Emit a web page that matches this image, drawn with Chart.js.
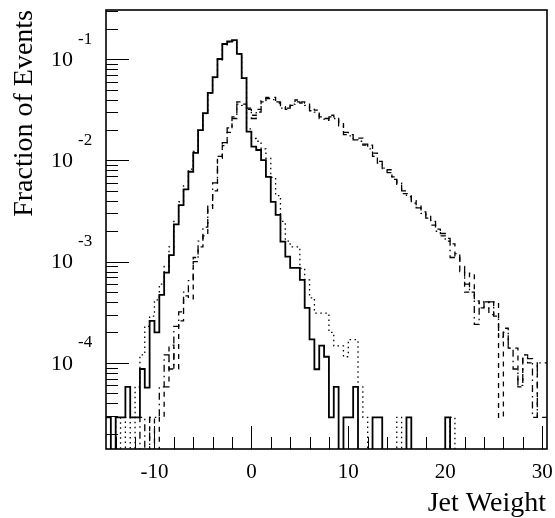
<!DOCTYPE html>
<html>
<head>
<meta charset="utf-8">
<script src="https://cdn.jsdelivr.net/npm/chart.js@4/dist/chart.umd.min.js"></script>
<style>
  html, body { margin: 0; padding: 0; background: #fff; }
  canvas { display: block; }
</style>
</head>
<body>
<canvas id="c" width="555" height="518"></canvas>
<script>
// Bin low edges (bin width 0.5), last bin ends at 30.5
const binLow = [-15,-14.5,-14,-13.5,-13,-12.5,-12,-11.5,-11,-10.5,-10,-9.5,-9,-8.5,-8,-7.5,-7,-6.5,-6,-5.5,
  -5,-4.5,-4,-3.5,-3,-2.5,-2,-1.5,-1,-0.5,0,0.5,1,1.5,2,2.5,3,3.5,4,4.5,5,5.5,6,6.5,7,7.5,8,8.5,9,9.5,
  10,10.5,11,11.5,12,12.5,13,13.5,14,14.5,15,15.5,16,16.5,17,17.5,18,18.5,19,19.5,20,20.5,21,21.5,22,22.5,
  23,23.5,24,24.5,25,25.5,26,26.5,27,27.5,28,28.5,29,29.5,30];
const lastEdge = 30.5;

// Solid histogram
const solidValues = [2.9e-5,2.9e-5,0,2.9e-5,2.9e-5,5.8e-5,2.9e-5,2.9e-5,8.7e-5,5.7e-5,
  2.6e-4,2.0e-4,4.7e-4,7.8e-4,1.16e-3,2.34e-3,3.63e-3,5.19e-3,7.74e-3,1.19e-2,
  2.0e-2,2.94e-2,4.65e-2,6.68e-2,0.1007,0.1416,0.150,0.155,0.113,0.0653,
  0.0193,0.0137,0.0127,0.0101,0.0069,0.0039,0.0029,0.00158,0.00112,0.00087,
  0.00087,0.00066,0.00035,0.000171,8.65e-5,0.000148,0.000115,2.9e-5,5.8e-5,0,
  2.9e-5,2.9e-5,5.8e-5,0,0,0,2.9e-5,2.9e-5,0,0,
  0,0,0,2.9e-5,0,0,0,0,0,0,
  0,2.9e-5,0,0,0,0,0,0,0,0,
  0,0,0,0,0,0,0,0,0,0,0];

// Dotted histogram
const dottedValues = [0,0,0,2.9e-5,0,2.9e-5,0,5.8e-5,1.2e-4,2.3e-4,
  2.9e-4,4.2e-4,6.0e-4,9.0e-4,1.4e-3,2.5e-3,3.9e-3,5.6e-3,8.2e-3,1.23e-2,
  2.0e-2,2.9e-2,4.6e-2,6.6e-2,0.099,0.139,0.149,0.152,0.112,0.066,
  0.0205,0.0165,0.0155,0.013,0.0105,0.0068,0.0045,0.0025,0.0016,0.0014,
  0.0014,0.00086,0.00066,0.00044,0.00031,0.00031,0.00031,0.0002,0.000147,0.000147,
  0.000115,0.00017,0.00017,5.8e-5,2.9e-5,0,0,0,0,0,
  0,2.9e-5,0,0,0,0,0,0,0,0,
  0,0,2.9e-5,0,0,0,0,0,0,0,
  0,0,0,0,0,0,0,0,0,0,0];

// Dashed histogram
const dashedValues = [0,0,0,0,0,0,0,0,0,0,
  2.9e-5,0,2.9e-5,5.8e-5,1.5e-4,8.7e-5,2.6e-4,4.6e-4,4.3e-4,1.1e-3,
  1.4e-3,1.8e-3,3.3e-3,5.0e-3,1.05e-2,1.4e-2,1.9e-2,2.6e-2,3.8e-2,3.6e-2,
  3.2e-2,2.8e-2,3.0e-2,3.8e-2,4.2e-2,4.2e-2,3.7e-2,3.4e-2,3.2e-2,3.5e-2,
  3.96e-2,3.8e-2,3.7e-2,3.2e-2,3.15e-2,2.6e-2,2.6e-2,2.8e-2,2.7e-2,2.4e-2,
  1.8e-2,1.8e-2,1.66e-2,1.66e-2,1.42e-2,1.42e-2,1.18e-2,9.4e-3,8.1e-3,8.1e-3,
  6.9e-3,5.8e-3,4.7e-3,4.7e-3,4.0e-3,3.6e-3,3.1e-3,2.9e-3,2.3e-3,2.1e-3,
  1.8e-3,1.7e-3,1.5e-3,1.1e-3,8.0e-4,5.0e-4,7.7e-4,4.1e-4,3.5e-4,4.0e-4,
  3.0e-4,4.0e-4,2.9e-5,2.2e-4,1.4e-4,1.4e-4,5.8e-5,1.2e-4,1.0e-4,1.0e-4,2.9e-5];

// Dash-dotted histogram
const dashDotValues = [0,0,0,0,0,0,0,0,2.9e-5,0,
  2.9e-5,2.9e-5,5.8e-5,1.2e-4,8.7e-5,2.3e-4,3.2e-4,5.0e-4,6.5e-4,1.0e-3,
  1.6e-3,2.2e-3,3.6e-3,6.0e-3,1.1e-2,1.5e-2,2.1e-2,2.7e-2,3.6e-2,3.5e-2,
  3.3e-2,2.6e-2,3.2e-2,3.9e-2,4.1e-2,4.0e-2,3.8e-2,3.3e-2,3.3e-2,3.6e-2,
  3.8e-2,3.7e-2,3.5e-2,3.1e-2,3.0e-2,2.7e-2,2.5e-2,2.7e-2,2.6e-2,2.2e-2,
  1.9e-2,1.75e-2,1.6e-2,1.55e-2,1.45e-2,1.3e-2,1.1e-2,9.8e-3,8.4e-3,7.6e-3,
  6.5e-3,6.0e-3,5.0e-3,4.4e-3,3.8e-3,3.4e-3,3.0e-3,2.7e-3,2.5e-3,2.0e-3,
  1.9e-3,1.6e-3,1.1e-3,1.2e-3,9.0e-4,6.0e-4,5.0e-4,2.4e-4,4.0e-4,3.5e-4,
  4.0e-4,2.9e-4,1.8e-4,2.0e-4,1.4e-4,8.7e-5,6.0e-5,1.2e-4,1.1e-4,2.9e-5,1.0e-4];

const xTickLabels = [-10, 0, 10, 20, 30];
const yDecades = [-1, -2, -3, -4];
const xTitle = 'Jet Weight';
const yTitle = 'Fraction of Events';

const X_MIN = -15, X_MAX = 30.5;
const Y_MIN = 1.41e-5, Y_MAX = 0.307;
const FLOOR = 1e-8; // empty bins drawn below the axis floor

function histPoints(vals) {
  const pts = binLow.map((x, i) => ({ x: x, y: vals[i] > 0 ? vals[i] : FLOOR }));
  pts.push({ x: lastEdge, y: vals[vals.length - 1] > 0 ? vals[vals.length - 1] : FLOOR });
  return pts;
}

const SERIF = '"Liberation Serif", "Times New Roman", serif';

const axesPlugin = {
  id: 'rootAxes',
  afterDraw(chart) {
    const ctx = chart.ctx;
    const a = chart.chartArea;
    const xs = chart.scales.x, ys = chart.scales.y;
    ctx.save();
    ctx.strokeStyle = '#000';
    ctx.fillStyle = '#000';
    ctx.setLineDash([]);
    // frame
    ctx.lineWidth = 1.6;
    ctx.strokeRect(a.left, a.top, a.right - a.left, a.bottom - a.top);
    // y ticks (inward from left)
    ctx.lineWidth = 1;
    for (let e = -5; e <= -1; e++) {
      for (let m = 1; m <= 9; m++) {
        const v = m * Math.pow(10, e);
        if (v < Y_MIN || v > Y_MAX) continue;
        const py = Math.round(ys.getPixelForValue(v)) + 0.5;
        const len = m === 1 ? 23 : 12;
        ctx.beginPath();
        ctx.moveTo(a.left, py);
        ctx.lineTo(a.left + len, py);
        ctx.stroke();
      }
    }
    // x ticks (inward from bottom)
    for (let x = -14; x <= 30; x += 2) {
      const px = Math.round(xs.getPixelForValue(x)) + 0.5;
      const len = (x % 10 === 0) ? 23 : 12;
      ctx.beginPath();
      ctx.moveTo(px, a.bottom);
      ctx.lineTo(px, a.bottom - len);
      ctx.stroke();
    }
    // x tick labels
    ctx.font = '21px ' + SERIF;
    ctx.textAlign = 'center';
    ctx.textBaseline = 'middle';
    xTickLabels.forEach(v => {
      ctx.fillText(String(v), xs.getPixelForValue(v), 472);
    });
    // y tick labels 10^e
    yDecades.forEach(e => {
      const py = ys.getPixelForValue(Math.pow(10, e));
      ctx.font = '22px ' + SERIF;
      ctx.textAlign = 'right';
      ctx.textBaseline = 'middle';
      ctx.fillText('10', 73, py + 1);
      ctx.font = '17px ' + SERIF;
      ctx.textAlign = 'left';
      ctx.fillText(String(e), 78, py - 20);
    });
    // x title
    ctx.font = '28px ' + SERIF;
    ctx.textAlign = 'right';
    ctx.textBaseline = 'alphabetic';
    ctx.fillText(xTitle, 546, 511);
    // y title
    ctx.translate(32, 10);
    ctx.rotate(-Math.PI / 2);
    ctx.textAlign = 'right';
    ctx.textBaseline = 'alphabetic';
    ctx.fillText(yTitle, 0, 0);
    ctx.restore();
  }
};

const common = { stepped: 'after', pointRadius: 0, fill: false, borderColor: '#000', tension: 0 };

new Chart(document.getElementById('c'), {
  type: 'line',
  data: {
    datasets: [
      Object.assign({ label: 'dashed', data: histPoints(dashedValues), borderWidth: 1.3, borderDash: [5, 5] }, common),
      Object.assign({ label: 'dashdot', data: histPoints(dashDotValues), borderWidth: 1.3, borderDash: [7, 4, 1.5, 4] }, common),
      Object.assign({ label: 'dotted', data: histPoints(dottedValues), borderWidth: 1.3, borderDash: [1.5, 3.5] }, common),
      Object.assign({ label: 'solid', data: histPoints(solidValues), borderWidth: 1.8 }, common)
    ]
  },
  options: {
    responsive: false,
    animation: false,
    devicePixelRatio: 1,
    layout: { padding: { left: 106, top: 10, right: 8, bottom: 69 } },
    scales: {
      x: { type: 'linear', min: X_MIN, max: X_MAX, display: false },
      y: { type: 'logarithmic', min: Y_MIN, max: Y_MAX, display: false }
    },
    plugins: { legend: { display: false }, tooltip: { enabled: false } }
  },
  plugins: [axesPlugin]
});
</script>
</body>
</html>
